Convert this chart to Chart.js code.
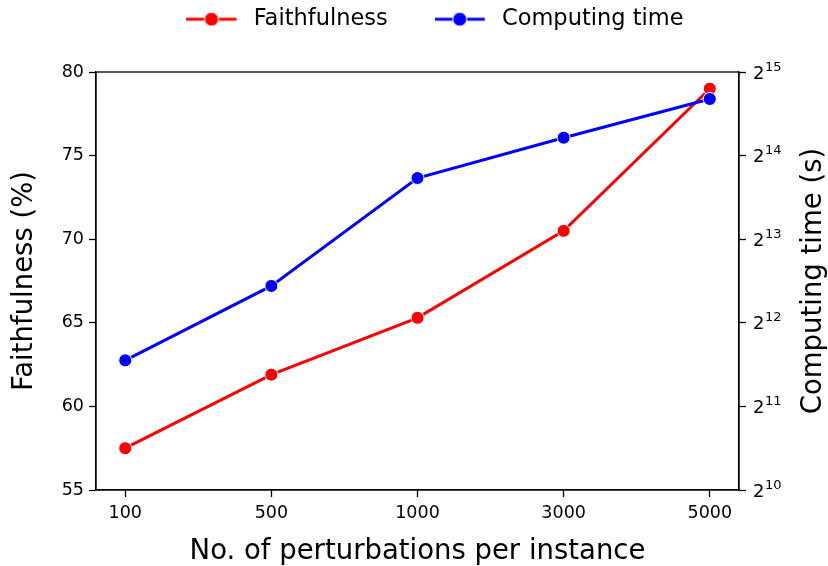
<!DOCTYPE html>
<html>
<head>
<meta charset="utf-8">
<script src="https://cdn.jsdelivr.net/npm/chart.js@4/dist/chart.umd.min.js"></script>
<style>
  html, body { margin: 0; padding: 0; background: #fff; }
  #wrap { width: 828px; height: 566px; }
</style>
</head>
<body>
<div id="wrap"><canvas id="grafico"></canvas></div>
<script>
const perturbacoes = ["100", "500", "1000", "3000", "5000"];
const faithfulness = [57.5, 61.9, 65.3, 70.5, 79.0];
const tempo = [3000, 5560, 13600, 19000, 26200];
const faithTicks = [55, 60, 65, 70, 75, 80];
const expoentes = [10, 11, 12, 13, 14, 15];

const fonte = "'DejaVu Sans', sans-serif";

// icone da legenda: linha + marcador
function icone(cor) {
  const c = document.createElement("canvas");
  c.width = 56; c.height = 18;
  const g = c.getContext("2d");
  g.strokeStyle = cor; g.lineWidth = 3;
  g.beginPath(); g.moveTo(0, 9); g.lineTo(50, 9); g.stroke();
  g.beginPath(); g.arc(25, 9, 7, 0, 2 * Math.PI);
  g.fillStyle = cor; g.fill();
  g.strokeStyle = "#fff"; g.lineWidth = 1; g.stroke();
  return c;
}
const icones = [icone("#ff0000"), icone("#0000ff")];

const moldura = {
  id: "moldura",
  beforeInit(chart) {
    const fitOrig = chart.legend.fit;
    chart.legend.fit = function () { fitOrig.call(this); this.height = 72; };
  },
  beforeDraw(chart) {
    chart.legend.left = 21;
    chart.legend.right = 828 + 21;
    chart.legend.top = 8 - 47;
  },
  afterDatasetsDraw(chart) {
    const { ctx, chartArea: a } = chart;
    ctx.save();
    ctx.strokeStyle = "#000"; ctx.lineWidth = 1.3;
    ctx.strokeRect(a.left, a.top, a.right - a.left, a.bottom - a.top);

    // rótulos 2^n do eixo direito
    const s = chart.scales.y2;
    ctx.fillStyle = "#000";
    ctx.textAlign = "left"; ctx.textBaseline = "alphabetic";
    expoentes.forEach((e) => {
      const y = s.getPixelForValue(Math.pow(2, e));
      const x = a.right + 14;
      ctx.font = "18px " + fonte;
      ctx.fillText("2", x, y + 6.5);
      const w = ctx.measureText("2").width;
      ctx.font = "13px " + fonte;
      ctx.fillText(String(e), x + w + 0.5, y - 1.5);
    });

    // título do eixo direito (lido de baixo para cima)
    ctx.font = "27.5px " + fonte;
    ctx.textAlign = "center"; ctx.textBaseline = "middle";
    ctx.translate(813.5, (a.top + a.bottom) / 2);
    ctx.rotate(-Math.PI / 2);
    ctx.fillText("Computing time (s)", 0, 0);
    ctx.restore();
  }
};

new Chart(document.getElementById("grafico"), {
  type: "line",
  data: {
    datasets: [{
      label: "Faithfulness",
      data: faithfulness.map((v, i) => ({ x: i, y: v })),
      yAxisID: "y",
      borderColor: "#ff0000",
      backgroundColor: "#ff0000",
      pointBackgroundColor: "#ff0000",
      pointBorderColor: "#ffffff",
      pointBorderWidth: 1,
      pointRadius: 6.5,
      borderWidth: 3,
      order: 1
    }, {
      label: "Computing time",
      data: tempo.map((v, i) => ({ x: i, y: v })),
      yAxisID: "y2",
      borderColor: "#0000ff",
      backgroundColor: "#0000ff",
      pointBackgroundColor: "#0000ff",
      pointBorderColor: "#ffffff",
      pointBorderWidth: 1,
      pointRadius: 6.5,
      borderWidth: 3,
      order: 0
    }]
  },
  options: {
    responsive: true,
    maintainAspectRatio: false,
    animation: false,
    layout: { padding: 0 },
    plugins: {
      tooltip: { enabled: false },
      legend: {
        position: "top",
        labels: {
          usePointStyle: true,
          pointStyleWidth: 56,
          padding: 47,
          color: "#000",
          font: { family: fonte, size: 22.5 },
          generateLabels: (chart) => chart.data.datasets.map((ds, i) => ({
            text: ds.label,
            pointStyle: icones[i],
            fillStyle: ds.borderColor,
            strokeStyle: ds.borderColor,
            lineWidth: 0,
            hidden: false,
            datasetIndex: i,
            fontColor: "#000"
          }))
        }
      }
    },
    scales: {
      x: {
        type: "linear",
        min: -0.2,
        max: 4.2,
        afterBuildTicks: (s) => { s.ticks = perturbacoes.map((_, i) => ({ value: i })); },
        afterFit: (s) => { s.height = 76; },
        ticks: {
          autoSkip: false, maxRotation: 0, padding: 6, color: "#000",
          font: { family: fonte, size: 17.5 },
          callback: (v) => perturbacoes[v]
        },
        grid: { drawOnChartArea: false, tickLength: 7, tickColor: "#000", tickWidth: 1.3 },
        border: { display: true, color: "#000", width: 1.3 },
        title: {
          display: true, text: "No. of perturbations per instance", color: "#000",
          font: { family: fonte, size: 27.5, lineHeight: 1 }, padding: 0
        }
      },
      y: {
        position: "left",
        min: 55,
        max: 80,
        afterBuildTicks: (s) => { s.ticks = faithTicks.map((v) => ({ value: v })); },
        afterFit: (s) => { s.width = 96; },
        ticks: { padding: 5, color: "#000", font: { family: fonte, size: 17.5 } },
        grid: { drawOnChartArea: false, tickLength: 7, tickColor: "#000", tickWidth: 1.3 },
        border: { display: true, color: "#000", width: 1.3 },
        title: {
          display: true, text: "Faithfulness (%)", color: "#000",
          font: { family: fonte, size: 27.5, lineHeight: 1 }, padding: { top: 11 }
        }
      },
      y2: {
        type: "logarithmic",
        position: "right",
        min: Math.pow(2, expoentes[0]),
        max: Math.pow(2, expoentes[expoentes.length - 1]),
        afterBuildTicks: (s) => { s.ticks = expoentes.map((e) => ({ value: Math.pow(2, e) })); },
        afterFit: (s) => { s.width = 89; },
        ticks: { display: false },
        grid: { drawOnChartArea: false, tickLength: 7, tickColor: "#000", tickWidth: 1.3 },
        border: { display: true, color: "#000", width: 1.3 },
        title: { display: false }
      }
    }
  },
  plugins: [moldura]
});
</script>
</body>
</html>
